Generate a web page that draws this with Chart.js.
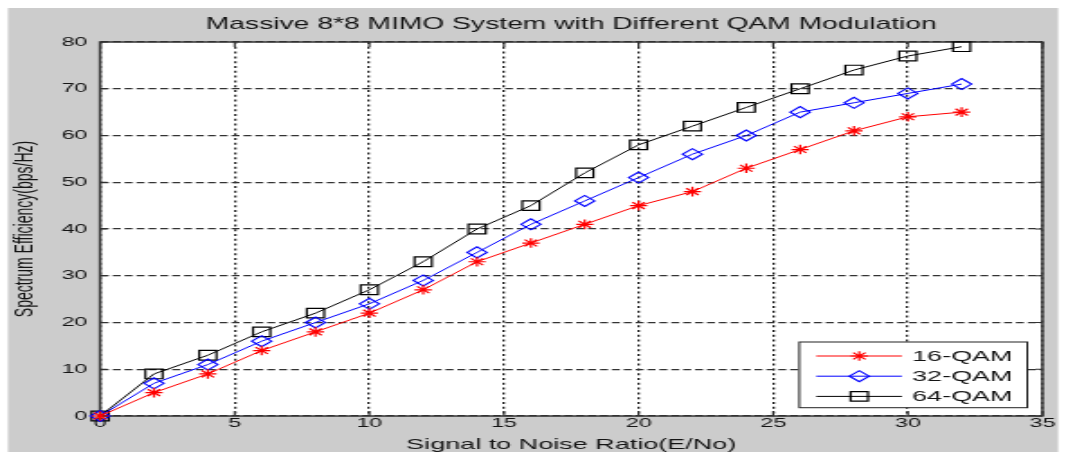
<!DOCTYPE html>
<html>
<head>
<meta charset="utf-8">
<title>Massive 8*8 MIMO System with Different QAM Modulation</title>
<script src="https://cdn.jsdelivr.net/npm/chart.js@4/dist/chart.umd.min.js"></script>
<style>
  html, body { margin: 0; padding: 0; background: #fff; overflow: hidden; }
</style>
</head>
<body>
<!-- 元画像は横に引き伸ばされているので、キャンバスを小さく描いてCSSで横に伸ばす -->
<canvas id="chart" width="592" height="454" style="display:block;width:1066px;height:454px"></canvas>
<script>
// ==========
// データ
// ==========
const snr = [0, 2, 4, 6, 8, 10, 12, 14, 16, 18, 20, 22, 24, 26, 28, 30, 32];
const qam16 = [0, 5, 9, 14, 18, 22, 27, 33, 37, 41, 45, 48, 53, 57, 61, 64, 65];
const qam32 = [0, 7, 11, 16, 20, 24, 29, 35, 41, 46, 51, 56, 60, 65, 67, 69, 71];
const qam64 = [0, 9, 13, 18, 22, 27, 33, 40, 45, 52, 58, 62, 66, 70, 74, 77, 79];
const xTicks = [0, 5, 10, 15, 20, 25, 30, 35];
const yTicks = [0, 10, 20, 30, 40, 50, 60, 70, 80];

const titleText = 'Massive 8*8 MIMO System with Different QAM Modulation';
const xTitle = 'Signal to Noise Ratio(E/No)';
const yTitle = 'Spectrum Efficiency(bps/Hz)';

const FONT = '"Liberation Sans", Arial, Helvetica, sans-serif';
const textColor = '#141414';

function toPoints(xs, ys) {
    return xs.map((x, i) => ({ x: x, y: ys[i] }));
}

// マーカー（凡例用）
function drawMarker(ctx, style, x, y, r) {
    ctx.beginPath();
    if (style === 'rect') {
        const s = r * Math.SQRT1_2;
        ctx.rect(x - s, y - s, 2 * s, 2 * s);
    } else if (style === 'rectRot') {
        ctx.moveTo(x - r, y);
        ctx.lineTo(x, y - r);
        ctx.lineTo(x + r, y);
        ctx.lineTo(x, y + r);
        ctx.closePath();
    } else {
        for (let k = 0; k < 4; k++) {
            const ang = k * Math.PI / 4;
            ctx.moveTo(x + Math.cos(ang) * r, y + Math.sin(ang) * r);
            ctx.lineTo(x - Math.cos(ang) * r, y - Math.sin(ang) * r);
        }
    }
    ctx.stroke();
}

// 背景・枠・内向き目盛り・タイトル・凡例
const matlabLook = {
    id: 'matlabLook',
    beforeDraw(chart) {
        const ctx = chart.ctx;
        const a = chart.chartArea;
        ctx.save();
        ctx.fillStyle = '#ffffff';
        ctx.fillRect(0, 0, chart.width, chart.height);
        ctx.fillStyle = '#cccccc';
        ctx.fillRect(4.4, 8, 583.2, 444);
        ctx.fillStyle = '#ffffff';
        ctx.fillRect(a.left, a.top, a.right - a.left, a.bottom - a.top);
        ctx.restore();
    },
    beforeDatasetsDraw(chart) {
        const ctx = chart.ctx;
        const a = chart.chartArea;
        const xs = chart.scales.x;
        const ys = chart.scales.y;
        ctx.save();
        ctx.strokeStyle = '#333333';
        ctx.lineWidth = 1.2;
        ctx.beginPath();
        xs.ticks.forEach(t => {
            const px = xs.getPixelForValue(t.value);
            ctx.moveTo(px, a.bottom); ctx.lineTo(px, a.bottom - 5);
            ctx.moveTo(px, a.top); ctx.lineTo(px, a.top + 5);
        });
        ys.ticks.forEach(t => {
            const py = ys.getPixelForValue(t.value);
            ctx.moveTo(a.left, py); ctx.lineTo(a.left + 4, py);
            ctx.moveTo(a.right, py); ctx.lineTo(a.right - 4, py);
        });
        ctx.stroke();
        ctx.lineWidth = 1.5;
        ctx.strokeRect(a.left, a.top, a.right - a.left, a.bottom - a.top);
        ctx.restore();
    },
    afterDraw(chart) {
        const ctx = chart.ctx;
        const a = chart.chartArea;
        ctx.save();
        // タイトル
        ctx.fillStyle = textColor;
        ctx.font = '15.7px ' + FONT;
        ctx.textAlign = 'center';
        ctx.textBaseline = 'middle';
        ctx.fillText(titleText, (a.left + a.right) / 2, 25);

        // 凡例（右下）
        const bw = 126.6, bh = 65.7;
        const bx = a.right - 135, by = a.bottom - 74;
        ctx.fillStyle = '#ffffff';
        ctx.fillRect(bx, by, bw, bh);
        ctx.strokeStyle = '#222222';
        ctx.lineWidth = 1;
        ctx.strokeRect(bx, by, bw, bh);
        chart.data.datasets.forEach((ds, i) => {
            const ry = by + 14 + i * 20.2;
            ctx.strokeStyle = ds.borderColor;
            ctx.lineWidth = 1;
            ctx.beginPath();
            ctx.moveTo(bx + 9.4, ry);
            ctx.lineTo(bx + 57, ry);
            ctx.stroke();
            ctx.lineWidth = ds.pointBorderWidth;
            drawMarker(ctx, ds.pointStyle, bx + 33.3, ry, ds.pointRadius);
            ctx.fillStyle = textColor;
            ctx.font = '15px ' + FONT;
            ctx.textAlign = 'left';
            ctx.textBaseline = 'middle';
            ctx.fillText(ds.label, bx + 62.6, ry + 0.5);
        });
        ctx.restore();
    }
};

const ctx = document.getElementById('chart');
const chart = new Chart(ctx, {
    type: 'line',
    data: {
        datasets: [
            {
                label: '16-QAM',
                data: toPoints(snr, qam16),
                borderColor: '#ff0000',
                borderWidth: 1,
                pointStyle: 'star',
                pointRadius: 4.8,
                pointBorderWidth: 1.2,
                pointBackgroundColor: 'rgba(0,0,0,0)',
                pointBorderColor: '#ff0000',
                clip: false
            },
            {
                label: '32-QAM',
                data: toPoints(snr, qam32),
                borderColor: '#0000ff',
                borderWidth: 1,
                pointStyle: 'rectRot',
                pointRadius: 5.5,
                pointBorderWidth: 1.1,
                pointBackgroundColor: 'rgba(0,0,0,0)',
                pointBorderColor: '#0000ff',
                clip: false
            },
            {
                label: '64-QAM',
                data: toPoints(snr, qam64),
                borderColor: '#000000',
                borderWidth: 1,
                pointStyle: 'rect',
                pointRadius: 6.8,
                pointBorderWidth: 1.2,
                pointBackgroundColor: 'rgba(0,0,0,0)',
                pointBorderColor: '#000000',
                clip: false
            }
        ]
    },
    options: {
        responsive: false,
        devicePixelRatio: 1,
        animation: false,
        layout: {
            padding: { top: 42, left: 4, right: 13.1, bottom: 0 }
        },
        plugins: {
            legend: { display: false },
            title: { display: false },
            tooltip: { enabled: false }
        },
        scales: {
            x: {
                type: 'linear',
                min: 0,
                max: 35,
                afterBuildTicks: (s) => { s.ticks = xTicks.map(v => ({ value: v })); },
                afterFit: (s) => { s.height = 38; },
                grid: {
                    color: '#222222',
                    lineWidth: 1.3,
                    drawTicks: false
                },
                border: { display: false, dash: [2, 2.8] },
                ticks: {
                    padding: 0,
                    color: textColor,
                    font: { size: 13, family: FONT }
                },
                title: {
                    display: true,
                    text: xTitle,
                    color: textColor,
                    font: { size: 15, family: FONT },
                    padding: { top: 0, bottom: 0 }
                }
            },
            y: {
                min: 0,
                max: 80,
                afterBuildTicks: (s) => { s.ticks = yTicks.map(v => ({ value: v })); },
                afterFit: (s) => { s.width = 51.6; },
                grid: {
                    color: '#333333',
                    lineWidth: 1.3,
                    drawTicks: false
                },
                border: { display: false, dash: [4.4, 2.2] },
                ticks: {
                    padding: 7,
                    color: textColor,
                    font: { size: 13, family: FONT }
                },
                title: {
                    display: true,
                    text: yTitle,
                    color: textColor,
                    font: { size: 14, family: FONT },
                    padding: { top: 2, bottom: 0 }
                }
            }
        }
    },
    plugins: [matlabLook]
});
</script>
</body>
</html>
